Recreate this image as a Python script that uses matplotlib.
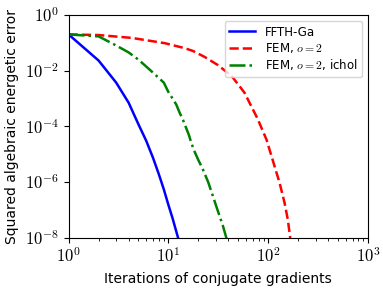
import matplotlib
matplotlib.use("Agg")
import matplotlib.pyplot as plt
from matplotlib.ticker import NullLocator, FuncFormatter
import numpy as np

plt.rcParams['mathtext.fontset'] = 'cm'

# FFTH-Ga
it_ffth = [1, 2, 3, 4, 5, 6, 7, 8, 9, 10, 11, 12, 13, 14]
err_ffth = [0.2, 0.023, 3.7e-3, 7e-4, 1.2e-4, 3e-5, 7.5e-6, 1.95e-6, 5.4e-7,
            1.5e-7, 5e-8, 1.65e-8, 6e-9, 2e-9]

# FEM, o=2
it_fem = [1, 2, 4.3, 9.2, 14.6, 17.6, 23.1, 31.1, 42.9, 57.9, 78.2, 96.2,
          110.4, 129.7, 145.6, 157, 166, 173]
err_fem = [0.2, 0.19, 0.15, 0.097, 0.064, 0.051, 0.031, 0.0161, 6.5e-3,
           1.6e-3, 1.87e-4, 3.3e-5, 6.4e-6, 9.5e-7, 1.8e-7, 4.5e-8, 1e-8,
           3.8e-9]

# FEM, o=2, ichol
it_ichol = [1, 2, 3, 4, 5, 6, 7, 8, 9, 10, 11, 12, 13, 14, 15, 16, 17, 18,
            20, 22, 25, 28, 31, 35, 38, 41]
err_ichol = [0.2, 0.17, 0.08, 0.045, 0.025, 0.014, 8.5e-3, 5.5e-3, 3.7e-3,
             1.7e-3, 1e-3, 6e-4, 3e-4, 1.7e-4, 9e-5, 5e-5, 2.5e-5, 1.4e-5,
             6e-6, 3e-6, 1e-6, 3e-7, 1e-7, 2.8e-8, 1e-8, 4e-9]


def pow10(v, pos):
    return r'$10^{%d}$' % int(round(np.log10(v)))


fig = plt.figure(figsize=(3.83, 2.88), dpi=100)
ax = fig.add_axes([0.179, 0.175, 0.782, 0.773])

ax.loglog(it_ffth, err_ffth, '-', color='blue', lw=1.8, label='FFTH-Ga')
ax.loglog(it_fem, err_fem, '--', color='red', lw=1.8, label='FEM, $o=2$')
ax.loglog(it_ichol, err_ichol, '-.', color='green', lw=1.8,
          label='FEM, $o=2$, ichol')

ax.set_xlim(1, 1e3)
ax.set_ylim(1e-8, 1)
ax.set_yticks([1e-8, 1e-6, 1e-4, 1e-2, 1])
ax.yaxis.set_minor_locator(NullLocator())
ax.xaxis.set_major_formatter(FuncFormatter(pow10))
ax.yaxis.set_major_formatter(FuncFormatter(pow10))
ax.tick_params(labelsize=12)

ax.set_xlabel('Iterations of conjugate gradients', fontsize=10)
ax.set_ylabel('Squared algebraic energetic error', fontsize=10)
ax.legend(loc='upper right', fontsize=8.5, handlelength=2.2,
          labelspacing=0.2)

fig.savefig('out.png', dpi=100)
